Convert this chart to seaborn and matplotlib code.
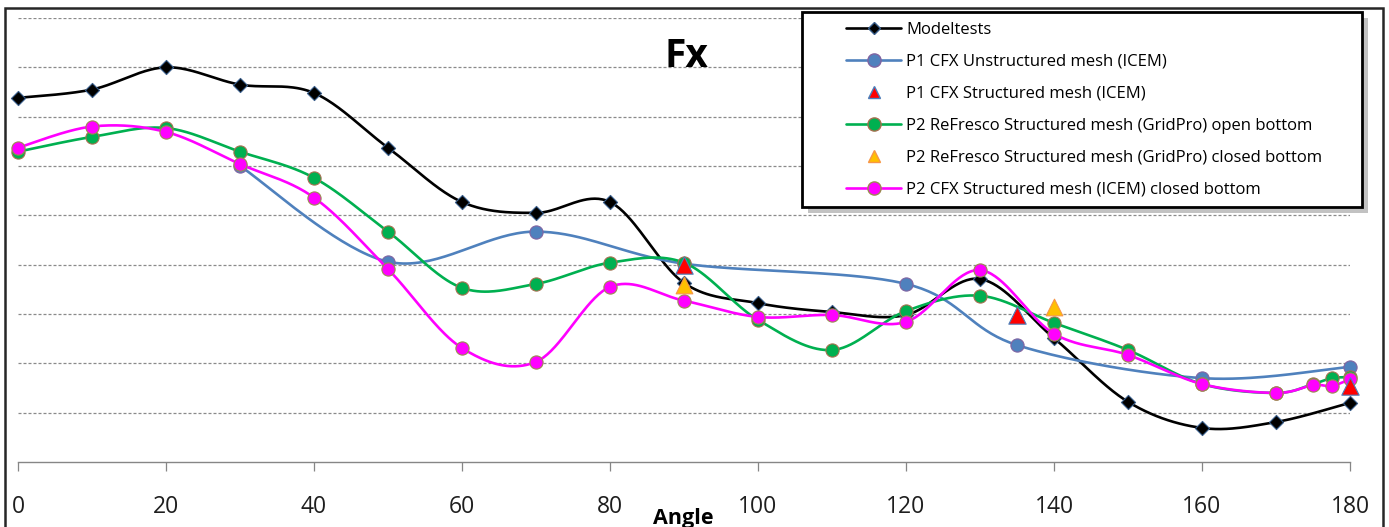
import numpy as np
import pandas as pd
import matplotlib
matplotlib.use("Agg")
import matplotlib.pyplot as plt
from matplotlib.lines import Line2D
from matplotlib.patches import Rectangle
import seaborn as sns

# ---------------- data ----------------
angle_mt = [0, 10, 20, 30, 40, 50, 60, 70, 80, 90, 100, 110, 120, 130, 140, 150, 160, 170, 180]
fx_mt = [7.38, 7.55, 8.00, 7.65, 7.48, 6.37, 5.27, 5.05, 5.27, 3.63, 3.22, 3.04, 2.98, 3.71, 2.51, 1.22, 0.69, 0.81, 1.20]

angle_p1u = [30, 50, 70, 90, 120, 135, 160, 180]
fx_p1u = [6.00, 4.06, 4.67, 4.02, 3.61, 2.37, 1.70, 1.93]

angle_p1s = [90, 135, 180]
fx_p1s = [4.00, 2.98, 1.54]

angle_p2o = [0, 10, 20, 30, 40, 50, 60, 70, 80, 90, 100, 110, 120, 130, 140, 150, 160, 170, 175, 177.5, 180]
fx_p2o = [6.29, 6.59, 6.77, 6.29, 5.76, 4.67, 3.53, 3.61, 4.04, 4.04, 2.88, 2.27, 3.06, 3.37, 2.82, 2.27, 1.58, 1.40, 1.58, 1.70, 1.72]

angle_p2c = [90, 140]
fx_p2c = [3.59, 3.15]

angle_p2cfx = [0, 10, 20, 30, 40, 50, 60, 70, 80, 90, 100, 110, 120, 130, 140, 150, 160, 170, 175, 177.5, 180]
fx_p2cfx = [6.37, 6.80, 6.69, 6.04, 5.36, 3.91, 2.31, 2.03, 3.55, 3.27, 2.94, 2.98, 2.84, 3.89, 2.60, 2.17, 1.58, 1.40, 1.56, 1.54, 1.68]

labels = ["Modeltests",
          "P1 CFX Unstructured mesh (ICEM)",
          "P1 CFX Structured mesh (ICEM)",
          "P2 ReFresco Structured mesh (GridPro) open bottom",
          "P2 ReFresco Structured mesh (GridPro) closed bottom",
          "P2 CFX Structured mesh (ICEM) closed bottom"]
x_ticks = [0, 20, 40, 60, 80, 100, 120, 140, 160, 180]
title = "Fx"
xlabel = "Angle"

# ---------------- figure ----------------
W, H = 1389, 527
sns.set_theme(style="white")
plt.rcParams['font.family'] = ['Open Sans', 'DejaVu Sans']

fig = plt.figure(figsize=(W / 100, H / 100), dpi=100)
fig.patch.set_facecolor("white")
ax_l, ax_r, ax_t, ax_b = 18, 1350, 18, 462
ax = fig.add_axes([ax_l / W, 1 - ax_b / H, (ax_r - ax_l) / W, (ax_b - ax_t) / H])
ax.set_facecolor("none")

SX = (ax_r - ax_l) / 180.0
SY = (ax_b - ax_t) / 9.0


def excel_smooth(xs, ys, n=40):
    """Bezier smoothing like a spreadsheet 'smoothed line' (screen space)."""
    P = np.column_stack([np.asarray(xs, float) * SX, np.asarray(ys, float) * SY])
    segs = []
    for i in range(len(P) - 1):
        p0 = P[i - 1] if i > 0 else P[i]
        p1, p2 = P[i], P[i + 1]
        p3 = P[i + 2] if i + 2 < len(P) else P[i + 1]
        c1 = p1 + (p2 - p0) / 6.0
        c2 = p2 - (p3 - p1) / 6.0
        t = np.linspace(0, 1, n)[:, None]
        seg = (1 - t) ** 3 * p1 + 3 * (1 - t) ** 2 * t * c1 + 3 * (1 - t) * t ** 2 * c2 + t ** 3 * p2
        segs.append(seg if i == 0 else seg[1:])
    out = np.vstack(segs)
    return out[:, 0] / SX, out[:, 1] / SY


lw = 1.9
ms_c = 9.5
series_lines = [
    (angle_mt, fx_mt, "#000000", 2),
    (angle_p1u, fx_p1u, "#4F81BD", 3),
    (angle_p2o, fx_p2o, "#00B050", 4),
    (angle_p2cfx, fx_p2cfx, "#FF00FF", 5),
]
for xs, ys, col, z in series_lines:
    sx, sy = excel_smooth(xs, ys)
    df = pd.DataFrame({"x": sx, "y": sy})
    sns.lineplot(data=df, x="x", y="y", sort=False, color=col, lw=lw, ax=ax,
                 zorder=z, clip_on=False, estimator=None)

# markers
def scat(xs, ys, marker, size, face, edge, ew, z):
    df = pd.DataFrame({"x": xs, "y": ys})
    sns.scatterplot(data=df, x="x", y="y", marker=marker, s=size ** 2, color=face,
                    edgecolor=edge, linewidth=ew, ax=ax, zorder=z, clip_on=False)

scat(angle_mt, fx_mt, "D", 7.2, "#000000", "#385D8A", 0.8, 2.5)
scat(angle_p1u, fx_p1u, "o", ms_c, "#4F81BD", "#8064A2", 0.8, 3.5)
scat(angle_p2o, fx_p2o, "o", ms_c, "#00B050", "#A5704F", 0.8, 4.5)
scat(angle_p2cfx, fx_p2cfx, "o", ms_c, "#FF00FF", "#9B8B50", 0.8, 5.5)
scat(angle_p2c, fx_p2c, "^", 12, "#FFC000", "#F79646", 0.8, 6.5)
scat(angle_p1s, fx_p1s, "^", 12.5, "#FF0000", "#4A7EBB", 0.8, 7)

# axes styling
ax.set_xlim(0, 180)
ax.set_ylim(0, 9)
ax.set_yticks(range(1, 10))
ax.yaxis.grid(True, linestyle=(0, (2.4, 1.6)), color="#8A8A8A", linewidth=0.9)
ax.xaxis.grid(False)
ax.tick_params(axis="y", left=False, labelleft=False)
ax.set_xticks(x_ticks)
ax.set_xticklabels([str(v) for v in x_ticks])
ax.tick_params(axis="x", bottom=True, direction="out", length=6.5, width=0.9,
               color="#868686", pad=30, labelsize=16.5, labelcolor="#1E1E1E")
for lab in ax.get_xticklabels():
    lab.set_va("baseline")
for side in ["top", "right", "left"]:
    ax.spines[side].set_visible(False)
ax.spines["bottom"].set_color("#868686")
ax.spines["bottom"].set_linewidth(1.0)
ax.set_xlabel("")
ax.set_ylabel("")

# title and axis label
fig.text(686 / W, 1 - 67 / H, title, ha="center", va="baseline", fontsize=28,
         fontweight="bold", color="#000000")
fig.text(683 / W, 1 - 524 / H, xlabel, ha="center", va="baseline", fontsize=15.5,
         fontweight="bold", color="#000000")

# figure border
fig.patches.append(Rectangle((5 / W, -0.05), (1383 - 5) / W, 1 - 8 / H + 0.05,
                             transform=fig.transFigure, fill=False,
                             edgecolor="#262626", linewidth=1.8, zorder=0))

# legend frame with shadow
lx0, ly0, lx1, ly1 = 802, 12, 1362, 207
fig.patches.append(Rectangle(((lx0 + 6) / W, 1 - (ly1 + 6) / H), (lx1 - lx0) / W, (ly1 - ly0) / H,
                             transform=fig.transFigure, facecolor="#9A9A9A",
                             edgecolor="none", alpha=0.6, zorder=8))
fig.patches.append(Rectangle((lx0 / W, 1 - ly1 / H), (lx1 - lx0) / W, (ly1 - ly0) / H,
                             transform=fig.transFigure, facecolor="white",
                             edgecolor="#000000", linewidth=2.0, zorder=9))

handles = [
    Line2D([], [], color="#000000", lw=lw, marker="D", ms=6, mfc="#000000", mec="#385D8A"),
    Line2D([], [], color="#4F81BD", lw=lw, marker="o", ms=ms_c, mfc="#4F81BD", mec="#8064A2"),
    Line2D([], [], color="none", lw=0, marker="^", ms=9, mfc="#FF0000", mec="#4A7EBB"),
    Line2D([], [], color="#00B050", lw=lw, marker="o", ms=ms_c, mfc="#00B050", mec="#A5704F"),
    Line2D([], [], color="none", lw=0, marker="^", ms=9, mfc="#FFC000", mec="#F79646"),
    Line2D([], [], color="#FF00FF", lw=lw, marker="o", ms=ms_c, mfc="#FF00FF", mec="#9B8B50"),
]
leg = fig.legend(handles, labels, loc="upper left",
                 bbox_to_anchor=(846 / W, 1 - 22 / H), bbox_transform=fig.transFigure,
                 frameon=False, fontsize=12, handlelength=3.3, handletextpad=0.3,
                 labelspacing=0.96, borderpad=0, borderaxespad=0)
leg.set_zorder(10)
for t in leg.get_texts():
    t.set_color("#000000")

fig.savefig("out.png", dpi=100)
